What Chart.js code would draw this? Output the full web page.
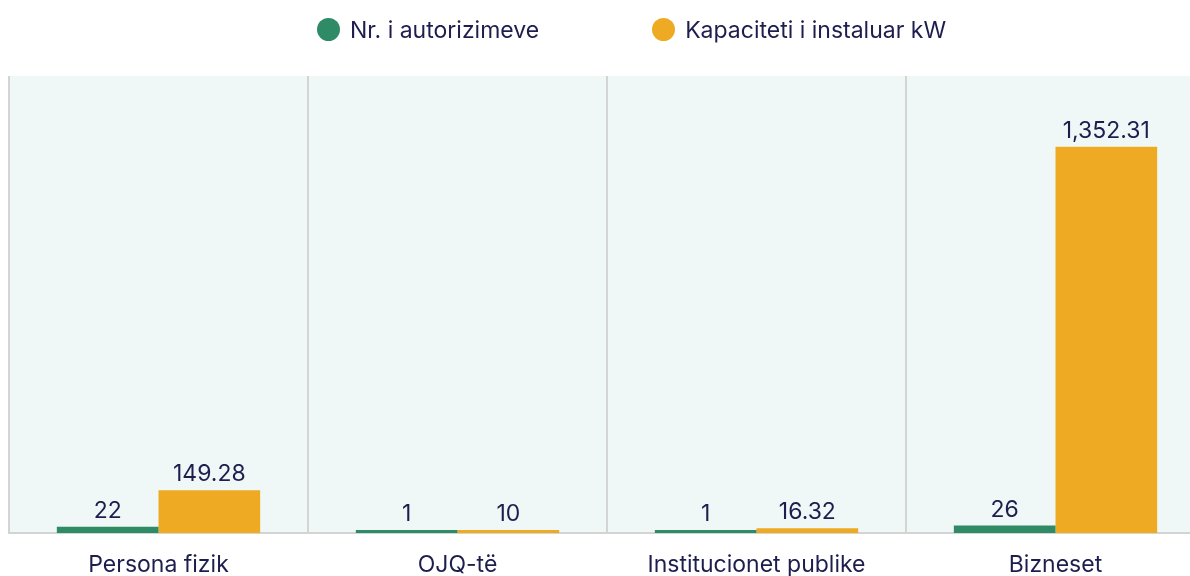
<!DOCTYPE html>
<html>
<head>
<meta charset="utf-8">
<script src="https://cdn.jsdelivr.net/npm/chart.js@4.4.0/dist/chart.umd.min.js"></script>
<style>
    html, body { margin: 0; padding: 0; background: #fff; overflow: hidden; }
    #wrap { position: relative; width: 1205px; height: 600px; }
    #legend { position: absolute; left: 317px; top: 17px; display: flex; gap: 113px; font-family: Inter, sans-serif; font-size: 23px; color: #1d1e4e; }
    .lg-item { display: flex; align-items: center; gap: 10px; height: 25px; }
    .lg-dot { width: 23px; height: 23px; border-radius: 50%; }
</style>
</head>
<body>
<div id="wrap">
    <canvas id="chart" width="1205" height="600"></canvas>
    <div id="legend"></div>
</div>
<script>
/* ── data ── */
const categories = ['Persona fizik', 'OJQ-të', 'Institucionet publike', 'Bizneset'];
const authorizations = [22, 1, 1, 26];
const capacityKW = [149.28, 10, 16.32, 1352.31];
const seriesNames = ['Nr. i autorizimeve', 'Kapaciteti i instaluar kW'];
const seriesColors = ['#2f8b66', '#eeaa22'];

const TEXT = '#1d1e4e';
const FONT = 'Inter, sans-serif';

// light mint fill behind the plot
const areaBg = {
    id: 'areaBg',
    beforeDraw(chart) {
        const { ctx, chartArea: a } = chart;
        ctx.save();
        ctx.fillStyle = '#eff8f6';
        ctx.fillRect(a.left, a.top, a.right - a.left, a.bottom - a.top);
        ctx.restore();
    }
};

// value on top of each bar
const barValues = {
    id: 'barValues',
    afterDatasetsDraw(chart) {
        const ctx = chart.ctx;
        ctx.save();
        ctx.fillStyle = TEXT;
        ctx.font = `23px ${FONT}`;
        ctx.textAlign = 'center';
        ctx.textBaseline = 'alphabetic';
        chart.data.datasets.forEach((ds, i) => {
            chart.getDatasetMeta(i).data.forEach((bar, j) => {
                const v = ds.data[j].toLocaleString('en-US', { maximumFractionDigits: 2 });
                ctx.fillText(v, bar.x, bar.y - 9);
            });
        });
        ctx.restore();
    }
};

// html legend
document.getElementById('legend').innerHTML = seriesNames.map((n, i) => `
    <div class="lg-item"><div class="lg-dot" style="background:${seriesColors[i]}"></div><span>${n}</span></div>`).join('');

new Chart(document.getElementById('chart'), {
    type: 'bar',
    data: {
        labels: categories,
        datasets: [
            { label: seriesNames[0], data: authorizations, backgroundColor: seriesColors[0], minBarLength: 3 },
            { label: seriesNames[1], data: capacityKW,     backgroundColor: seriesColors[1], minBarLength: 3 }
        ]
    },
    options: {
        responsive: false, animation: false,
        categoryPercentage: 0.68, barPercentage: 1,
        layout: { padding: { left: 9, right: 0, top: 76, bottom: 0 } },
        plugins: { legend: { display: false }, tooltip: { enabled: false } },
        scales: {
            x: {
                grid: { display: true, color: '#d4d4d4', lineWidth: 2, drawTicks: false, offset: true },
                border: { display: true, color: '#d4d4d4', width: 2 },
                ticks: { color: TEXT, font: { family: FONT, size: 23 }, padding: 18, maxRotation: 0 },
                afterFit: s => { s.height = 67; }
            },
            y: { display: false, min: 0, max: 1600 }
        }
    },
    plugins: [areaBg, barValues]
});
</script>
</body>
</html>
